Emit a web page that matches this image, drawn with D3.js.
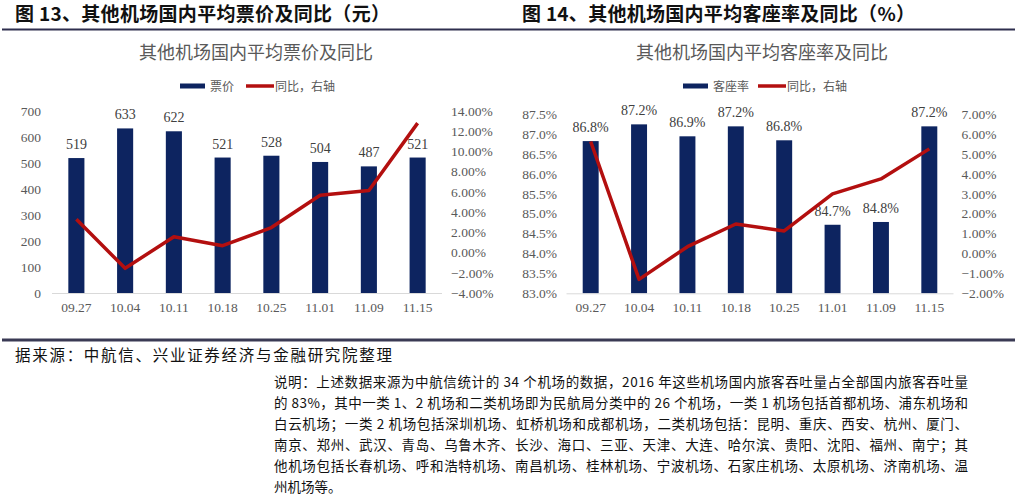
<!DOCTYPE html>
<html><head><meta charset="utf-8">
<script src="https://cdn.jsdelivr.net/npm/d3@7"></script>
<style>body{margin:0;background:#fff;}svg{display:block;}</style>
</head><body>
<svg id="c" width="1021" height="502"></svg>
<script>
const categories = ["09.27","10.04","10.11","10.18","10.25","11.01","11.09","11.15"];
const fareValues = [519,633,622,521,528,504,487,521];
const fareYoY = [3.3,-1.56,1.57,0.68,2.47,5.67,6.13,12.8];
const loadValues = [86.82,87.24,86.94,87.19,86.84,84.72,84.79,87.19];
const loadYoY = [5.62,-1.3,0.34,1.48,1.13,2.99,3.74,5.25];
const fareTicks = [0,100,200,300,400,500,600,700];
const fareYoYTicks = [-4,-2,0,2,4,6,8,10,12,14];
const loadTicks = [83,83.5,84,84.5,85,85.5,86,86.5,87,87.5];
const loadYoYTicks = [-2,-1,0,1,2,3,4,5,6,7];
const headers = ["图 13、其他机场国内平均票价及同比（元）","图 14、其他机场国内平均客座率及同比（%）"];
const titles = ["其他机场国内平均票价及同比","其他机场国内平均客座率及同比"];
const legendNames = [["票价","同比，右轴"],["客座率","同比，右轴"]];
const sourceText = "据来源：中航信、兴业证券经济与金融研究院整理";
const noteLines = [
 "说明：上述数据来源为中航信统计的 34 个机场的数据，2016 年这些机场国内旅客吞吐量占全部国内旅客吞吐量",
 "的 83%，其中一类 1、2 机场和二类机场即为民航局分类中的 26 个机场，一类 1 机场包括首都机场、浦东机场和",
 "白云机场；一类 2 机场包括深圳机场、虹桥机场和成都机场，二类机场包括：昆明、重庆、西安、杭州、厦门、",
 "南京、郑州、武汉、青岛、乌鲁木齐、长沙、海口、三亚、天津、大连、哈尔滨、贵阳、沈阳、福州、南宁；其",
 "他机场包括长春机场、呼和浩特机场、南昌机场、桂林机场、宁波机场、石家庄机场、太原机场、济南机场、温",
 "州机场等。"
];

const svg = d3.select("#c");
const NAVY = "#0d2460", RED = "#b30f0f", GRAY = "#595959";
const CJK = "'Noto Sans CJK SC','Noto Sans',sans-serif";
const SERIF = "'Liberation Serif','DejaVu Serif',serif";

// dividers
svg.append("rect").attr("x",2).attr("y",28.5).attr("width",1013).attr("height",2).attr("fill","#2e2e4e");
svg.append("rect").attr("x",2).attr("y",338.5).attr("width",1013).attr("height",3).attr("fill","#3a3a54");

// headers
[[15,375],[522,393]].forEach(([x,w],i)=>{
  svg.append("text").attr("x",x).attr("y",20.5).attr("font-family",CJK).attr("font-weight",700)
    .attr("font-size",19).attr("fill","#111").attr("textLength",w).attr("lengthAdjust","spacing").text(headers[i]);
});

function drawChart(cfg){
  const g = svg.append("g");
  const x = d3.scaleBand().domain(categories).range([cfg.x0,cfg.x1]).paddingInner(0.67).paddingOuter(0.335);
  const yL = d3.scaleLinear().domain(cfg.leftDomain).range([cfg.yB,cfg.yT]);
  const yR = d3.scaleLinear().domain(cfg.rightDomain).range([cfg.yB,cfg.yT]);
  // title
  g.append("text").attr("x",cfg.titleX).attr("y",59).attr("text-anchor","middle")
    .attr("font-family",CJK).attr("font-size",18).attr("fill",GRAY).text(cfg.title);
  // legend
  const lg = g.append("g").attr("font-family",CJK).attr("font-size",12).attr("fill",GRAY);
  lg.append("rect").attr("x",cfg.legX).attr("y",83.5).attr("width",25).attr("height",5).attr("fill",NAVY);
  lg.append("text").attr("x",cfg.legX+30).attr("y",90.5).text(cfg.legend[0]);
  lg.append("line").attr("x1",cfg.legX2).attr("x2",cfg.legX2+28).attr("y1",86).attr("y2",86)
    .attr("stroke",RED).attr("stroke-width",3.5);
  lg.append("text").attr("x",cfg.legX2+29).attr("y",90.5).text(cfg.legend[1]);
  // left axis
  const aL = g.append("g").attr("transform",`translate(${cfg.leftLabelX},0)`)
    .call(d3.axisLeft(yL).tickValues(cfg.leftTicks).tickSize(0).tickPadding(0).tickFormat(cfg.leftFmt));
  aL.select(".domain").remove();
  aL.selectAll("text").attr("font-family",SERIF).attr("font-size",13.5).attr("fill",GRAY);
  // right axis
  const aR = g.append("g").attr("transform",`translate(${cfg.rightLabelX},0)`)
    .call(d3.axisRight(yR).tickValues(cfg.rightTicks).tickSize(0).tickPadding(0).tickFormat(d=>d3.format(".2f")(d)+"%"));
  aR.select(".domain").remove();
  aR.selectAll("text").attr("font-family",SERIF).attr("font-size",13.5).attr("fill",GRAY);
  // bars
  g.selectAll("rect.bar").data(cfg.values).join("rect").attr("class","bar")
    .attr("x",(d,i)=>x(categories[i])).attr("width",x.bandwidth())
    .attr("y",d=>yL(d)).attr("height",d=>cfg.yB-yL(d)).attr("fill",NAVY);
  // baseline
  g.append("line").attr("x1",cfg.x0).attr("x2",cfg.x1).attr("y1",cfg.yB+0.5).attr("y2",cfg.yB+0.5)
    .attr("stroke","#d9d9d9").attr("stroke-width",1);
  // x axis labels
  const aX = g.append("g").attr("transform",`translate(0,${cfg.yB})`)
    .call(d3.axisBottom(x).tickSize(0).tickPadding(9));
  aX.select(".domain").remove();
  aX.selectAll("text").attr("font-family",SERIF).attr("font-size",13.5).attr("fill",GRAY);
  // data labels
  g.selectAll("text.dl").data(cfg.values).join("text").attr("class","dl")
    .attr("x",(d,i)=>x(categories[i])+x.bandwidth()/2).attr("y",d=>yL(d)-9)
    .attr("text-anchor","middle").attr("font-family",SERIF).attr("font-size",14).attr("fill","#404040")
    .text(cfg.labelFmt);
  // line
  const line = d3.line().x((d,i)=>x(categories[i])+x.bandwidth()/2).y(d=>yR(d));
  g.append("path").datum(cfg.yoy).attr("d",line).attr("fill","none").attr("stroke",RED)
    .attr("stroke-width",3.5).attr("stroke-linejoin","round");
}

drawChart({x0:52,x1:442,yB:293,yT:111,leftDomain:[0,700],rightDomain:[-4,14],
  values:fareValues,yoy:fareYoY,leftTicks:fareTicks,rightTicks:fareYoYTicks,
  leftFmt:d3.format("d"),labelFmt:d3.format("d"),leftLabelX:41,rightLabelX:451,
  title:titles[0],titleX:256,legend:legendNames[0],legX:180,legX2:246});

drawChart({x0:566.5,x1:953.5,yB:293.3,yT:114,leftDomain:[83,87.5],rightDomain:[-2,7],
  values:loadValues,yoy:loadYoY,leftTicks:loadTicks,rightTicks:loadYoYTicks,
  leftFmt:d=>d3.format(".1f")(d)+"%",labelFmt:d=>d3.format(".1f")(d)+"%",leftLabelX:557,rightLabelX:961.5,
  title:titles[1],titleX:762,legend:legendNames[1],legX:683,legX2:758});

// source
svg.append("text").attr("x",15).attr("y",360.5).attr("font-family",CJK).attr("font-size",15.5)
  .attr("fill","#111").attr("textLength",377).attr("lengthAdjust","spacing").text(sourceText);
// notes
noteLines.forEach((t,i)=>{
  const tx = svg.append("text").attr("x",274).attr("y",387+i*20.9).attr("font-family",CJK)
    .attr("font-size",13.5).attr("fill","#111").text(t);
  if(i<noteLines.length-1) tx.attr("textLength",694).attr("lengthAdjust","spacing");
});
</script>
</body></html>
